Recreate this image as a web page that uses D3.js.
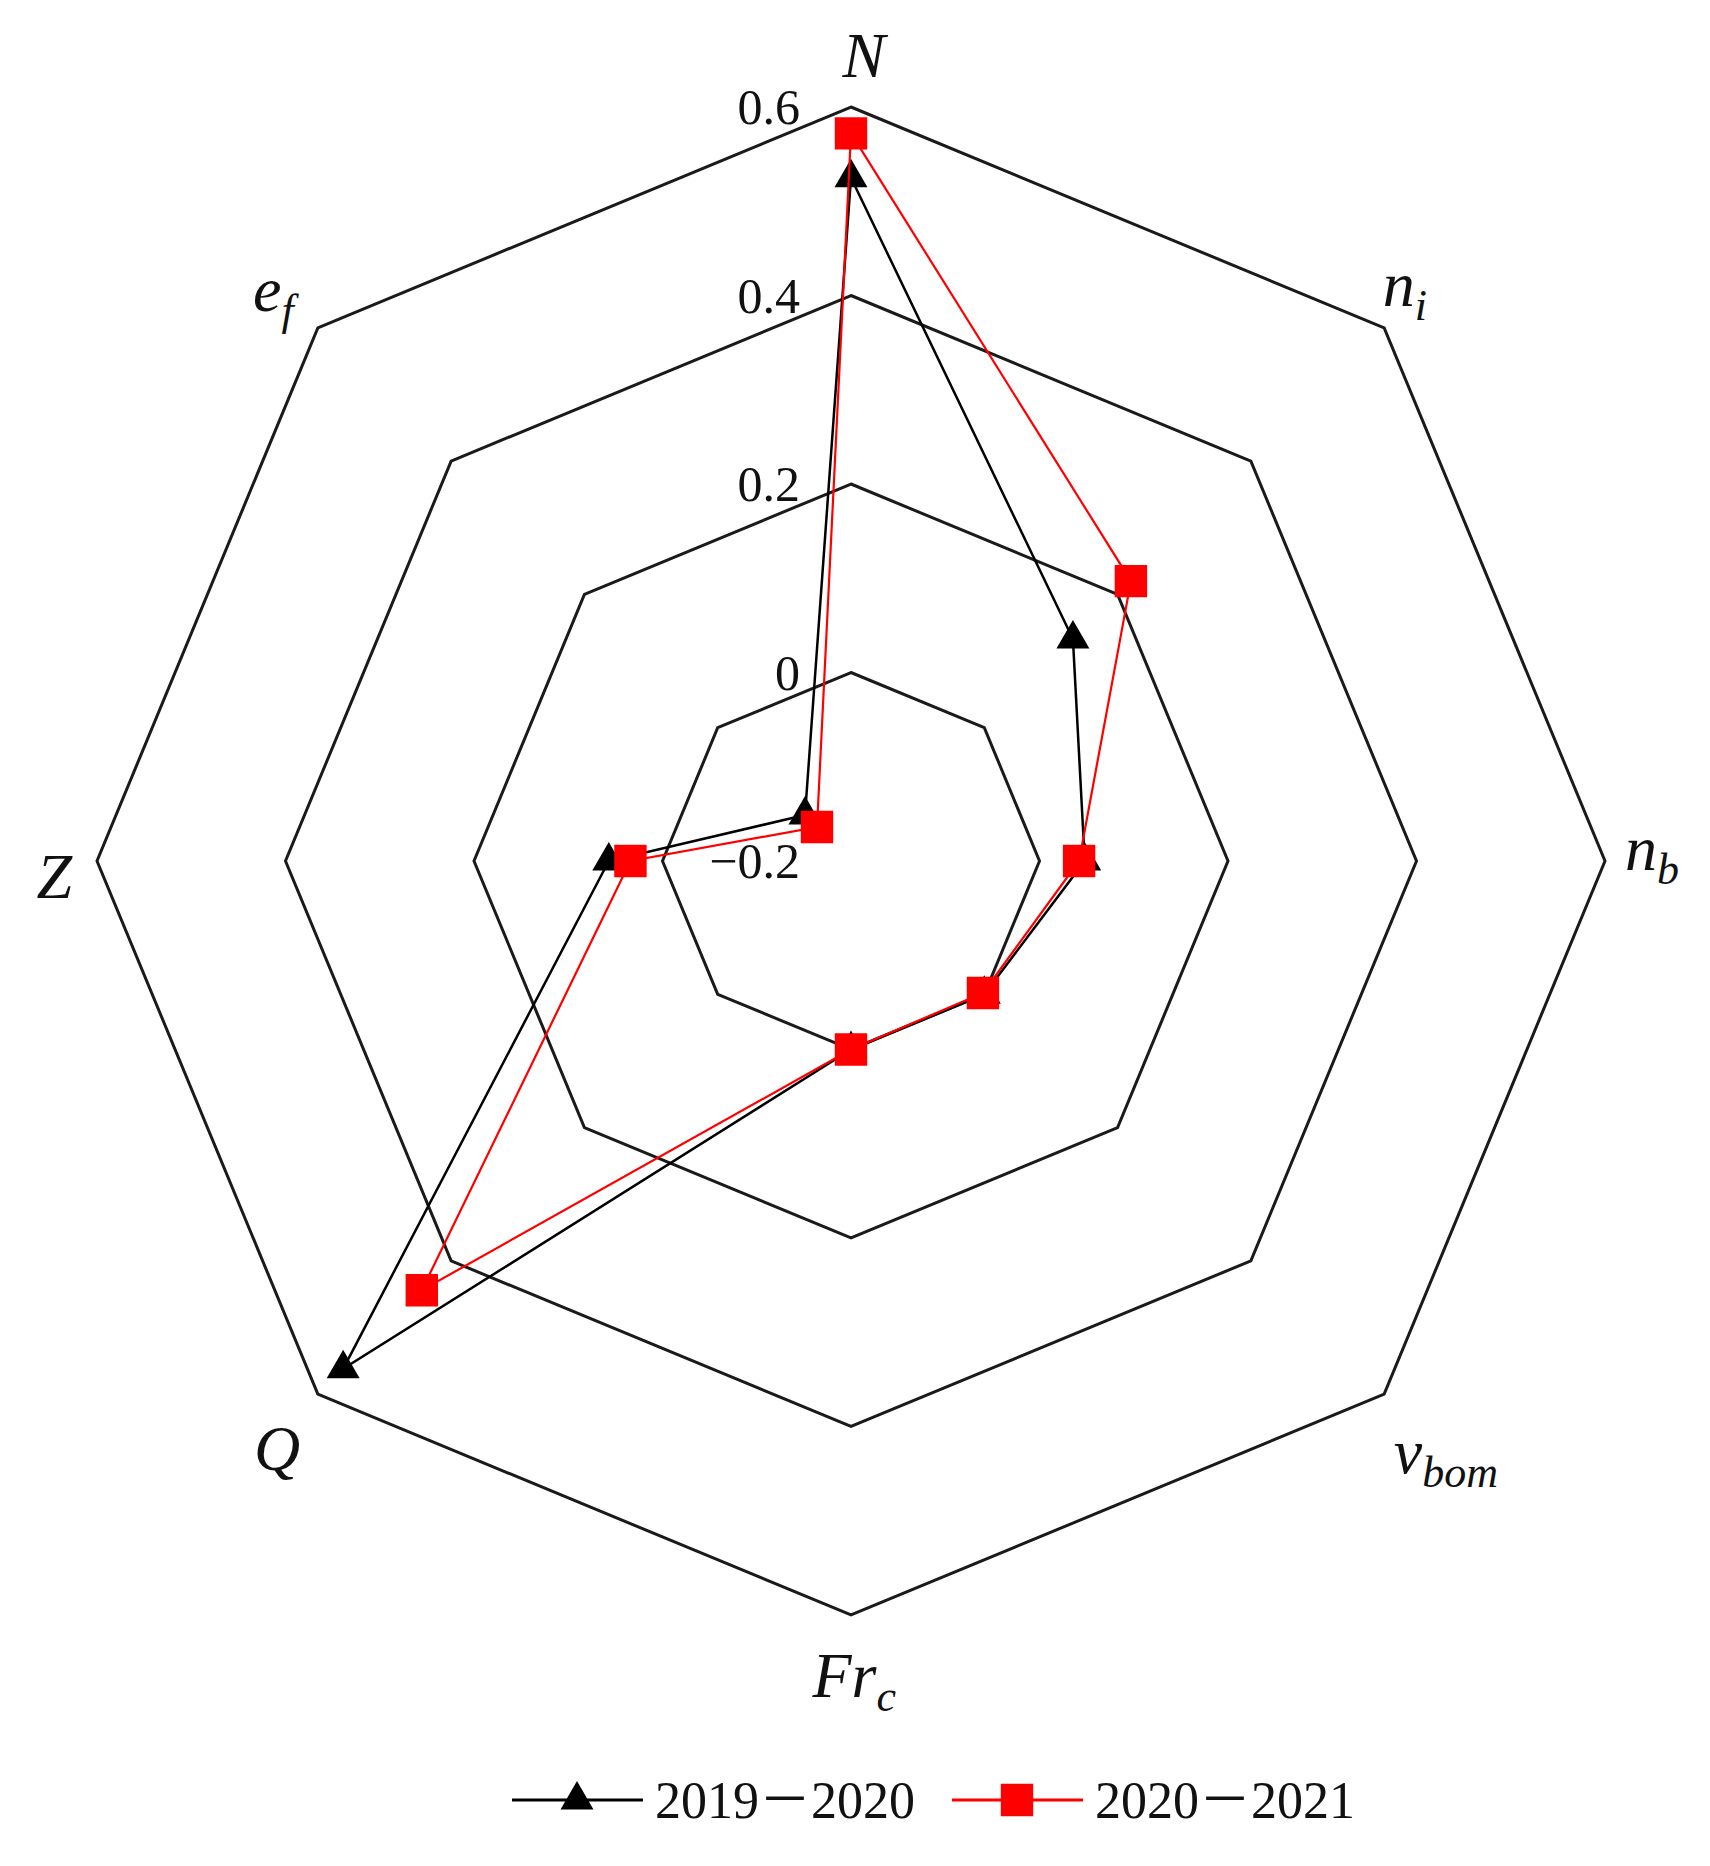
<!DOCTYPE html>
<html>
<head>
<meta charset="utf-8">
<script src="https://cdn.jsdelivr.net/npm/d3@7"></script>
<style>
  html, body { margin: 0; padding: 0; background: #fff; }
  svg { display: block; }
</style>
</head>
<body>
<svg id="chart" width="1710" height="1866"></svg>
<script>
// ---- data ----
const axisMain = ["N", "n", "n", "v", "Fr", "Q", "Z", "e"];
const axisSub  = ["",  "i", "b", "bom", "c", "", "", "f"];
const ringValues = [-0.2, 0, 0.2, 0.4, 0.6];
const ringLabels = ["\u22120.2", "0", "0.2", "0.4", "0.6"];
const seriesNames = ["2019\uFF0D2020", "2020\uFF0D2021"];
const values2019 = [0.525, 0.133, 0.048, 0.0, 0.0, 0.562, 0.057, -0.131];
const values2020 = [0.572, 0.220, 0.042, -0.002, 0.0, 0.444, 0.034, -0.149];

// ---- layout ----
const FONT = '"Liberation Serif", "Noto Sans CJK SC"';
const labelNudge = [[14, -2], [-14, -1], [-2, -5], [27, 30], [3, 12], [-6, 20], [7, 16], [-7, 4]];
const svg = d3.select("#chart");
const cx = 851, cy = 861;
const r = d3.scaleLinear().domain([-0.2, 0.6]).range([0, 754]);
const n = axisMain.length;
const ang = d3.scaleLinear().domain([0, n]).range([0, 2 * Math.PI]);
const pt = (v, i) => [cx + r(v) * Math.sin(ang(i)), cy - r(v) * Math.cos(ang(i))];

const closed = d3.line().curve(d3.curveLinearClosed);

// grid rings
svg.append("g").selectAll("path").data(ringValues).join("path")
  .attr("d", v => closed(d3.range(n).map(i => pt(v, i))))
  .attr("fill", "none").attr("stroke", "#1a1a1a").attr("stroke-width", 3)
  .attr("stroke-linejoin", "miter");

// ring labels
svg.append("g").selectAll("text").data(ringValues).join("text")
  .attr("x", cx - 51)
  .attr("y", v => cy - r(v) + 17)
  .attr("text-anchor", "end")
  .style("font-family", FONT)
  .style("font-size", "50px")
  .attr("fill", "#111")
  .text((v, k) => ringLabels[k]);

// axis labels
const labelVal = 0.652;
const lg = svg.append("g");
axisMain.forEach((m, i) => {
  const [px, py] = pt(labelVal, i);
  const tx = px + labelNudge[i][0], ty = py + labelNudge[i][1];
  const t = lg.append("text")
    .style("font-family", FONT)
    .style("font-style", "italic")
    .attr("fill", "#111")
    .attr("x", 0).attr("y", 0);
  t.append("tspan").style("font-size", "64px").text(m);
  if (axisSub[i]) {
    t.append("tspan").style("font-size", "44px").attr("dy", 14).text(axisSub[i]);
  }
  const bb = t.node().getBBox();
  const isCap = /^[A-Z]/.test(m);
  const vis = isCap ? -21 : -14;
  t.attr("x", tx - (bb.x + bb.width / 2)).attr("y", ty - vis);
});

// series
const series = [
  { name: seriesNames[0], values: values2019, color: "#000000", width: 2.5, symbol: d3.symbolTriangle, size: 470 },
  { name: seriesNames[1], values: values2020, color: "#ff0000", width: 2.2, symbol: d3.symbolSquare, size: 1050 }
];

series.forEach(s => {
  const pts = s.values.map((v, i) => pt(v, i));
  const g = svg.append("g");
  g.append("path").attr("d", closed(pts))
    .attr("fill", "none").attr("stroke", s.color).attr("stroke-width", s.width)
    .attr("stroke-linejoin", "miter");
  g.selectAll("path.m").data(pts).join("path").attr("class", "m")
    .attr("transform", d => `translate(${d[0]},${d[1]})`)
    .attr("d", d3.symbol(s.symbol, s.size)())
    .attr("fill", s.color);
});

// legend
const legY = 1800;
const legX = [512, 952];
series.forEach((s, k) => {
  const g = svg.append("g").attr("transform", `translate(${legX[k]},${legY})`);
  g.append("line").attr("x1", 0).attr("x2", 131).attr("y1", 0).attr("y2", 0)
    .attr("stroke", s.color).attr("stroke-width", 3);
  g.append("path").attr("transform", "translate(65,0)")
    .attr("d", d3.symbol(s.symbol, s.size)()).attr("fill", s.color);
  g.append("text").attr("x", 143).attr("y", 18)
    .style("font-family", FONT)
    .style("font-size", "52px").attr("fill", "#111")
    .text(s.name);
});
</script>
</body>
</html>
